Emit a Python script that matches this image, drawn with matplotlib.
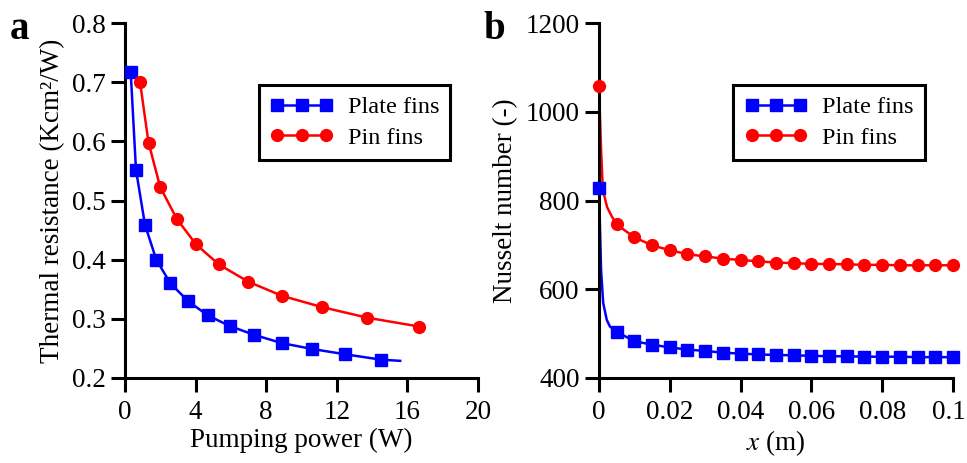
import matplotlib
matplotlib.use("Agg")
import matplotlib.pyplot as plt
import matplotlib.transforms as mtransforms

plt.rcParams['font.family'] = ['Liberation Serif', 'DejaVu Serif']
plt.rcParams['mathtext.fontset'] = 'stix'

# panel a: thermal resistance vs pumping power
plate_power = [0.32, 0.62, 1.13, 1.77, 2.57, 3.57, 4.68, 5.92, 7.31, 8.88, 10.61, 12.49, 14.50]
plate_res = [0.718, 0.552, 0.459, 0.400, 0.360, 0.330, 0.306, 0.288, 0.273, 0.259, 0.249, 0.240, 0.231]
plate_line_power = plate_power + [15.59]
plate_line_res = plate_res + [0.229]

pin_power = [0.85, 1.33, 1.99, 2.93, 4.02, 5.31, 6.97, 8.88, 11.14, 13.71, 16.66]
pin_res = [0.700, 0.598, 0.523, 0.469, 0.426, 0.392, 0.363, 0.339, 0.320, 0.302, 0.287]

# panel b: Nusselt number along x
x_pos = [0.0, 0.005, 0.01, 0.015, 0.02, 0.025, 0.03, 0.035, 0.04, 0.045, 0.05,
         0.055, 0.06, 0.065, 0.07, 0.075, 0.08, 0.085, 0.09, 0.095, 0.1]
plate_nu = [829, 504, 483, 475, 469, 464, 461, 457, 455, 453, 452,
            451, 450, 449, 449, 448, 448, 448, 447, 447, 447]
pin_nu = [1059, 746, 717, 699, 688, 679, 674, 669, 666, 663, 660,
          659, 657, 657, 656, 655, 655, 654, 654, 654, 654]

# extra curve points read near the inlet (line only)
plate_inlet_x = [0.0, 0.0006, 0.0012, 0.0022, 0.0031]
plate_inlet_nu = [829, 643, 569, 531, 516]
pin_inlet_x = [0.0, 0.0006, 0.0011, 0.0023, 0.0037]
pin_inlet_nu = [1059, 914, 824, 785, 763]

blue = '#0000ff'
red = '#ff0000'
fs = 19.5
leg_fs = 17.5
ms = 8.5

fig = plt.figure(figsize=(9.67, 4.63), dpi=100)
ax1 = fig.add_axes([0.1293, 0.1836, 0.3650, 0.7667])
ax2 = fig.add_axes([0.6194, 0.1836, 0.3661, 0.7667])


def style(ax):
    for s in ['top', 'right']:
        ax.spines[s].set_visible(False)
    for s in ['left', 'bottom']:
        ax.spines[s].set_linewidth(2.2)
    ax.tick_params(direction='out', length=10, width=2.2, labelsize=fs)
    ax.tick_params(axis='y', pad=4)
    ax.tick_params(axis='x', pad=6)


def add_legend(ax, handles):
    leg = ax.legend(handles=handles, loc='upper left', bbox_to_anchor=(0.38, 0.825),
                    fontsize=leg_fs, numpoints=3, handlelength=2.6, frameon=True,
                    fancybox=False, borderpad=0.45, labelspacing=0.35,
                    handletextpad=0.6, borderaxespad=0)
    leg.get_frame().set_edgecolor('black')
    leg.get_frame().set_linewidth(2.2)
    leg.get_frame().set_alpha(1)


# panel a
ax1.plot(plate_line_power, plate_line_res, color=blue, lw=1.8, zorder=2)
ax1.plot(plate_power, plate_res, ls='none', marker='s', ms=ms, color=blue, zorder=3)
ax1.plot(pin_power, pin_res, color=red, lw=1.8, zorder=2)
ax1.plot(pin_power, pin_res, ls='none', marker='o', ms=ms, color=red, zorder=3)
h1 = ax1.plot([], [], color=blue, lw=1.8, marker='s', ms=ms, label='Plate fins')[0]
h2 = ax1.plot([], [], color=red, lw=1.8, marker='o', ms=ms, label='Pin fins')[0]
ax1.set_xlim(0, 20)
ax1.set_ylim(0.2, 0.8)
ax1.set_xticks([0, 4, 8, 12, 16, 20])
ax1.set_yticks([0.2, 0.3, 0.4, 0.5, 0.6, 0.7, 0.8])
ax1.set_xlabel('Pumping power (W)', fontsize=fs, labelpad=2)
ax1.set_ylabel('Thermal resistance (Kcm\u00b2/W)', fontsize=fs, labelpad=5)
style(ax1)
add_legend(ax1, [h1, h2])

# panel b
ax2.plot(plate_inlet_x + x_pos[1:], plate_inlet_nu + plate_nu[1:], color=blue, lw=1.8, zorder=2)
ax2.plot(x_pos, plate_nu, ls='none', marker='s', ms=ms, color=blue, zorder=3, clip_on=False)
ax2.plot(pin_inlet_x + x_pos[1:], pin_inlet_nu + pin_nu[1:], color=red, lw=1.8, zorder=2)
ax2.plot(x_pos, pin_nu, ls='none', marker='o', ms=ms, color=red, zorder=3, clip_on=False)
g1 = ax2.plot([], [], color=blue, lw=1.8, marker='s', ms=ms, label='Plate fins')[0]
g2 = ax2.plot([], [], color=red, lw=1.8, marker='o', ms=ms, label='Pin fins')[0]
ax2.set_xlim(0, 0.1)
ax2.set_ylim(400, 1200)
ax2.set_xticks([0, 0.02, 0.04, 0.06, 0.08, 0.1])
ax2.set_xticklabels(['0', '0.02', '0.04', '0.06', '0.08', '0.1'])
ax2.set_yticks([400, 600, 800, 1000, 1200])
ax2.set_xlabel('$x$ (m)', fontsize=fs, labelpad=2)
ax2.set_ylabel('Nusselt number (-)', fontsize=fs, labelpad=5)
style(ax2)
add_legend(ax2, [g1, g2])

# nudge the last tick label so it stays inside the image
last = ax2.get_xticklabels()[-1]
last.set_transform(last.get_transform() + mtransforms.ScaledTranslation(-4 / 100, 0, fig.dpi_scale_trans))

fig.text(0.010, 0.915, 'a', fontsize=28, fontweight='bold')
fig.text(0.500, 0.915, 'b', fontsize=28, fontweight='bold')

fig.savefig('out.png', dpi=100)
